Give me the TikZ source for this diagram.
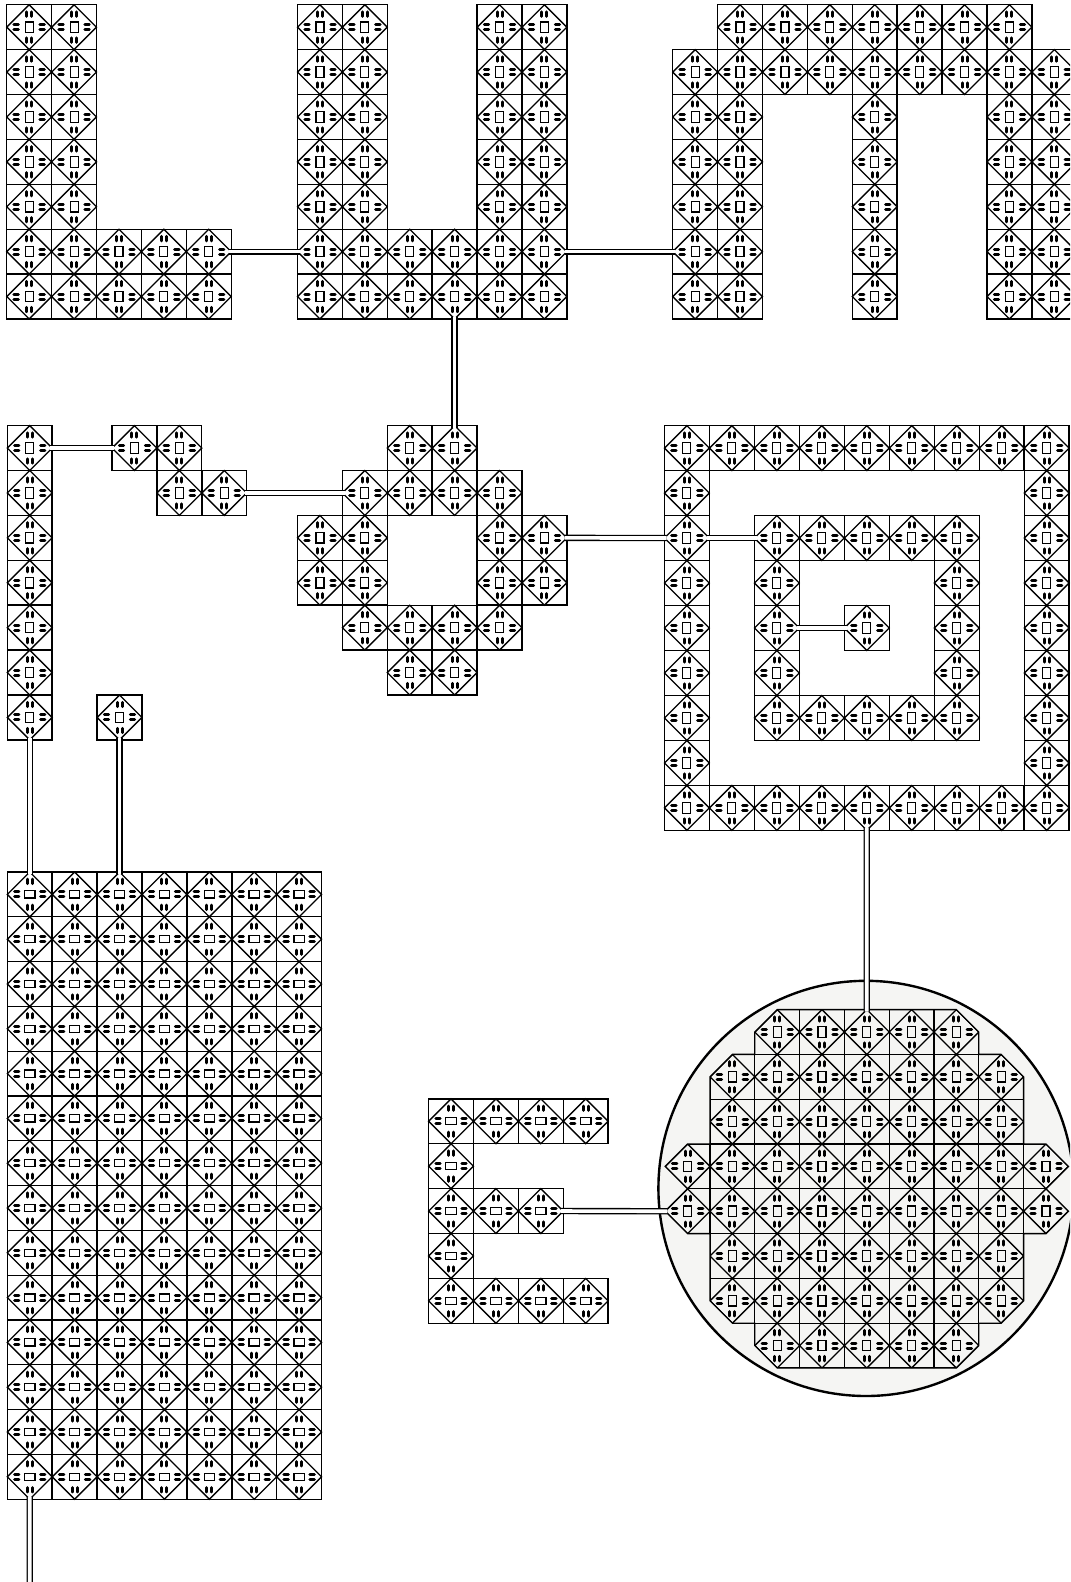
\documentclass[tikz,border=0pt]{standalone}
\usepackage{tikz}
\usetikzlibrary{shapes.geometric}

\definecolor{waferfill}{HTML}{F5F5F3}

% one die: frame, diamond, centre block and eight contact bars
\newcommand{\diebody}[2]{
    \node[dieframe] (-box) {};
    \node[diecore] (-core) {};
    \node[dieblock,minimum width=#1,minimum height=#2] (-block) {};
    \draw[diebar]
        (-.0625cm,.27cm) -- (-.0625cm,.38cm)
        (.0625cm,.27cm) -- (.0625cm,.38cm)
        (-.0625cm,-.27cm) -- (-.0625cm,-.38cm)
        (.0625cm,-.27cm) -- (.0625cm,-.38cm)
        (.27cm,-.0625cm) -- (.38cm,-.0625cm)
        (.27cm,.0625cm) -- (.38cm,.0625cm)
        (-.27cm,-.0625cm) -- (-.38cm,-.0625cm)
        (-.27cm,.0625cm) -- (-.38cm,.0625cm);
}

% outline of the dies kept on the wafer
\newcommand{\waferoutline}{
    (2.5,0) -- (6.5,0) -- (7,.5) -- (7,1) -- (7.5,1) -- (8,1.5) -- (8,3)
    -- (8.5,3) -- (9,3.5) -- (8.5,4) -- (9,4.5) -- (8.5,5) -- (8,5)
    -- (8,6.5) -- (7.5,7) -- (7,7) -- (7,7.5) -- (6.5,8) -- (2.5,8)
    -- (2,7.5) -- (2,7) -- (1.5,7) -- (1,6.5) -- (1,5) -- (.5,5)
    -- (0,4.5) -- (.5,4) -- (0,3.5) -- (.5,3) -- (1,3) -- (1,1.5)
    -- (1.5,1) -- (2,1) -- (2,.5) -- cycle
}

\tikzset{
    dieframe/.style={
        rectangle,
        draw=black,
        line width=0.95pt,
        minimum size=1.12cm,
        inner sep=0pt,
        outer sep=0pt
    },
    diecore/.style={
        diamond,
        aspect=1,
        draw=black,
        line width=0.95pt,
        minimum width=1.12cm,
        minimum height=1.12cm,
        inner sep=0pt,
        outer sep=0pt
    },
    dieblock/.style={
        rectangle,
        draw=black,
        line width=0.8pt,
        inner sep=0pt,
        outer sep=0pt
    },
    diebar/.style={
        line width=2.1pt,
        line cap=round
    },
    pics/die/.style={code={\diebody{0.2cm}{0.26cm}}},
    pics/flatdie/.style={code={\diebody{0.26cm}{0.18cm}}}
}

\begin{document}
\begin{tikzpicture}[
    grid/.style={
        x=1.1225cm,
        y=-1.1225cm
    },
    bus/.style={
        draw=black,
        line width=0.95pt,
        double=white,
        double distance=2.6pt,
        shorten <=-1.5pt,
        shorten >=-1.5pt
    },
    waferedge/.style={
        draw=black,
        line width=0.95pt
    }
]

\path[use as bounding box,clip] (0,0) rectangle (26.75,-39.55);

% ===========================================================
% WAFER DISC
% ===========================================================

\node[
    circle,
    draw=black,
    line width=1.7pt,
    fill=waferfill,
    minimum size=10.38cm,
    inner sep=0pt,
    outer sep=0pt
] (disc) at (21.65,-29.71) {};

% ===========================================================
% TOP ROW: letters L, U, M
% ===========================================================

\begin{scope}[shift={(0.168,-0.118)},grid]
    \foreach \r in {0,...,6}
        \foreach \c in {0,1}
            \pic (l-\c-\r) at (\c+.5,\r+.5) {die};
    \foreach \r in {5,6}
        \foreach \c in {2,3,4}
            \pic (l-\c-\r) at (\c+.5,\r+.5) {die};
\end{scope}

\begin{scope}[shift={(7.4375,-0.118)},grid]
    \foreach \r in {0,...,6}
        \foreach \c in {0,1,4,5}
            \pic (u-\c-\r) at (\c+.5,\r+.5) {die};
    \foreach \r in {5,6}
        \foreach \c in {2,3}
            \pic (u-\c-\r) at (\c+.5,\r+.5) {die};
\end{scope}

\begin{scope}[shift={(16.8175,-0.118)},grid]
    \foreach \c in {1,...,7}
        \pic (m-\c-0) at (\c+.5,.5) {die};
    \foreach \c in {0,...,8}
        \pic (m-\c-1) at (\c+.5,1.5) {die};
    \foreach \r in {2,...,6}
        \foreach \c in {0,1,4,7,8}
            \pic (m-\c-\r) at (\c+.5,\r+.5) {die};
\end{scope}

% ===========================================================
% MIDDLE ROW: strip, stair, ring and square spiral
% ===========================================================

\begin{scope}[shift={(0.1825,-10.64)},grid]
    \foreach \r in {0,...,6}
        \pic (s-0-\r) at (.5,\r+.5) {die};
    \pic (s-2-6) at (2.5,6.5) {die};
\end{scope}

\begin{scope}[shift={(2.8,-10.64)},grid]
    \foreach \c/\r in {0/0,1/0,1/1,2/1}
        \pic (t-\c-\r) at (\c+.5,\r+.5) {die};
\end{scope}

\begin{scope}[shift={(7.4375,-10.64)},grid]
    \foreach \c/\r in {2/0,3/0,1/1,2/1,3/1,4/1,
                       0/2,1/2,4/2,5/2,0/3,1/3,4/3,5/3,
                       1/4,2/4,3/4,4/4,2/5,3/5}
        \pic (r-\c-\r) at (\c+.5,\r+.5) {die};
\end{scope}

\begin{scope}[shift={(16.61,-10.64)},x=1.1245cm,y=-1.1245cm]
    \foreach \i in {0,...,8} {
        \pic (q-\i-0) at (\i+.5,.5) {die};
        \pic (q-\i-8) at (\i+.5,8.5) {die};
    }
    \foreach \i in {1,...,7} {
        \pic (q-0-\i) at (.5,\i+.5) {die};
        \pic (q-8-\i) at (8.5,\i+.5) {die};
    }
    \foreach \i in {2,...,6} {
        \pic (q-\i-2) at (\i+.5,2.5) {die};
        \pic (q-\i-6) at (\i+.5,6.5) {die};
    }
    \foreach \i in {3,4,5} {
        \pic (q-2-\i) at (2.5,\i+.5) {die};
        \pic (q-6-\i) at (6.5,\i+.5) {die};
    }
    \pic (q-4-4) at (4.5,4.5) {die};
\end{scope}

% ===========================================================
% BOTTOM ROW: block, letter E and wafer
% ===========================================================

\begin{scope}[shift={(0.1825,-21.8)},x=1.1225cm,y=-1.12cm]
    \foreach \r in {0,...,13}
        \foreach \c in {0,...,6}
            \pic (b-\c-\r) at (\c+.5,\r+.5) {flatdie};
\end{scope}

\begin{scope}[shift={(10.715,-27.47)},grid]
    \foreach \c/\r in {0/0,1/0,2/0,3/0,0/1,0/2,1/2,2/2,0/3,0/4,1/4,2/4,3/4}
        \pic (e-\c-\r) at (\c+.5,\r+.5) {flatdie};
\end{scope}

\begin{scope}[shift={(16.63,-25.24)},x=1.12cm,y=-1.12cm]
    \begin{scope}
        \clip \waferoutline;
        \foreach \c/\r in {2/0,3/0,4/0,5/0,6/0,
                           1/1,2/1,3/1,4/1,5/1,6/1,7/1,
                           1/2,2/2,3/2,4/2,5/2,6/2,7/2,
                           0/3,1/3,2/3,3/3,4/3,5/3,6/3,7/3,8/3,
                           0/4,1/4,2/4,3/4,4/4,5/4,6/4,7/4,8/4,
                           1/5,2/5,3/5,4/5,5/5,6/5,7/5,
                           1/6,2/6,3/6,4/6,5/6,6/6,7/6,
                           2/7,3/7,4/7,5/7,6/7}
            \pic (w-\c-\r) at (\c+.5,\r+.5) {die};
    \end{scope}
    \draw[waferedge] \waferoutline;
\end{scope}

% ===========================================================
% CONNECTORS
% ===========================================================

\coordinate (leadout) at (0.7425,-39.55);

\draw[bus] (l-4-5-core.east) -- (u-0-5-core.west);
\draw[bus] (u-5-5-core.east) -- (m-0-5-core.west);
\draw[bus] (u-3-6-core.south) -- (r-3-0-core.north);
\draw[bus] (s-0-0-core.east) -- (t-0-0-core.west);
\draw[bus] (t-2-1-core.east) -- (r-1-1-core.west);
\draw[bus] (r-5-2-core.east) -- (q-0-2-core.west);
\draw[bus] (q-0-2-core.east) -- (q-2-2-core.west);
\draw[bus] (q-2-4-core.east) -- (q-4-4-core.west);
\draw[bus] (q-4-8-core.south) -- (w-4-0-core.north);
\draw[bus] (e-2-2-core.east) -- (w-0-4-core.west);
\draw[bus] (s-0-6-core.south) -- (b-0-0-core.north);
\draw[bus] (s-2-6-core.south) -- (b-2-0-core.north);
\draw[bus] (b-0-13-core.south) -- (leadout);

\end{tikzpicture}
\end{document}
